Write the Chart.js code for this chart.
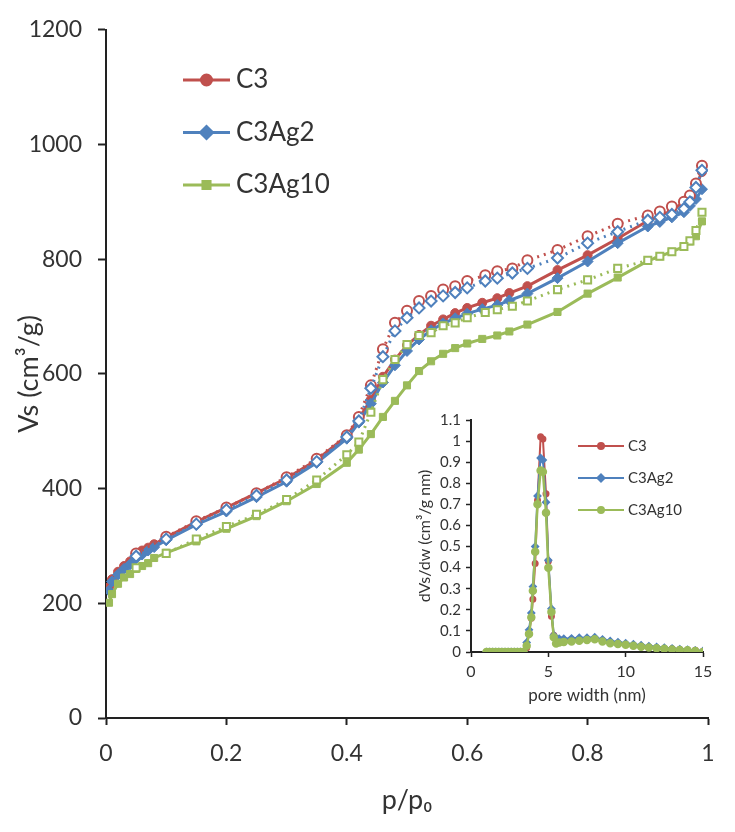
<!DOCTYPE html>
<html>
<head>
<meta charset="utf-8">
<script src="https://cdn.jsdelivr.net/npm/chart.js@4/dist/chart.umd.min.js"></script>
<style>
  body { margin: 0; background: #fff; }
  #wrap { position: relative; width: 735px; height: 832px; }
  #main { position: absolute; left: 0; top: 0; }
  #inset { position: absolute; left: 400px; top: 400px; }
</style>
</head>
<body>
<div id="wrap">
  <canvas id="main" width="735" height="832"></canvas>
  <canvas id="inset" width="335" height="310"></canvas>
</div>
<script>
// isotherm, adsorption branch
const pAds = [0.005, 0.01, 0.02, 0.03, 0.04, 0.05, 0.06, 0.07, 0.08, 0.1, 0.15, 0.2, 0.25, 0.3, 0.35, 0.4, 0.42, 0.44, 0.46, 0.48, 0.5, 0.52, 0.54, 0.56, 0.58, 0.6, 0.625, 0.65, 0.67, 0.7, 0.75, 0.8, 0.85, 0.9, 0.92, 0.94, 0.96, 0.97, 0.98, 0.99];
const c3Ads = [228, 242, 255, 265, 273, 283, 292, 297, 303, 315, 342, 367, 392, 418, 450, 492, 522, 555, 595, 625, 650, 668, 684, 695, 706, 715, 724, 732, 741, 753, 781, 807, 836, 867, 875, 885, 900, 910, 928, 952];
const c3Ag2Ads = [222, 238, 250, 260, 268, 278, 285, 292, 298, 310, 337, 360, 385, 412, 445, 487, 515, 548, 585, 615, 640, 660, 676, 688, 697, 705, 713, 720, 728, 740, 767, 796, 828, 857, 865, 873, 882, 893, 905, 922];
const c3Ag10Ads = [201, 216, 234, 245, 251, 260, 265, 270, 279, 288, 308, 330, 352, 378, 408, 445, 468, 495, 525, 553, 580, 605, 622, 635, 645, 653, 661, 667, 674, 686, 708, 740, 768, 797, 805, 813, 822, 831, 840, 866];

// desorption branch (hollow markers, dotted)
const pDes = [0.99, 0.98, 0.97, 0.96, 0.94, 0.92, 0.9, 0.85, 0.8, 0.75, 0.7, 0.675, 0.65, 0.63, 0.6, 0.58, 0.56, 0.54, 0.52, 0.5, 0.48, 0.46, 0.44, 0.42, 0.4, 0.35, 0.3, 0.25, 0.2, 0.15, 0.1, 0.05];
const c3Des = [963, 932, 911, 900, 892, 883, 876, 862, 840, 816, 798, 784, 779, 772, 762, 753, 747, 736, 727, 710, 689, 643, 580, 525, 493, 452, 420, 392, 367, 343, 316, 287];
const c3Ag2Des = [955, 925, 900, 888, 878, 873, 868, 848, 828, 802, 784, 776, 767, 762, 750, 742, 736, 727, 715, 698, 675, 630, 575, 518, 490, 447, 415, 388, 363, 338, 312, 282];
const c3Ag10Des = [882, 850, 832, 822, 813, 805, 798, 784, 764, 747, 727, 718, 712, 707, 698, 689, 684, 672, 667, 651, 625, 590, 533, 481, 459, 415, 381, 355, 334, 312, 287, 262];

// pore size distribution (inset)
const poreW = [1.0, 1.2, 1.4, 1.6, 1.8, 2.0, 2.2, 2.4, 2.6, 2.8, 3.0, 3.2, 3.4, 3.6, 3.75, 3.9, 4.0, 4.15, 4.3, 4.5, 4.65, 4.85, 5.0, 5.2, 5.35, 5.5, 5.7, 6.0, 6.5, 7.0, 7.5, 8.0, 8.5, 9.0, 9.5, 10, 10.5, 11, 11.5, 12, 12.5, 13, 13.5, 14, 14.5, 15];
const psdC3 = [0, 0, 0, 0, 0, 0, 0, 0, 0, 0, 0, 0, 0, 0.02, 0.09, 0.16, 0.25, 0.42, 0.72, 1.02, 1.01, 0.75, 0.43, 0.17, 0.08, 0.06, 0.06, 0.058, 0.06, 0.06, 0.062, 0.063, 0.055, 0.045, 0.04, 0.035, 0.03, 0.027, 0.023, 0.02, 0.017, 0.015, 0.012, 0.01, 0.008, 0.003];
const psdC3Ag2 = [0, 0, 0, 0, 0, 0, 0, 0, 0, 0, 0, 0, 0, 0.045, 0.105, 0.185, 0.31, 0.5, 0.74, 0.92, 0.91, 0.71, 0.435, 0.205, 0.08, 0.065, 0.063, 0.063, 0.065, 0.068, 0.068, 0.07, 0.06, 0.052, 0.047, 0.042, 0.037, 0.032, 0.028, 0.024, 0.02, 0.017, 0.014, 0.011, 0.008, 0.005];
const psdC3Ag10 = [0, 0, 0, 0, 0, 0, 0, 0, 0, 0, 0, 0, 0, 0.03, 0.085, 0.165, 0.29, 0.475, 0.7, 0.86, 0.855, 0.66, 0.4, 0.19, 0.07, 0.04, 0.045, 0.048, 0.05, 0.053, 0.057, 0.06, 0.05, 0.042, 0.038, 0.034, 0.03, 0.025, 0.021, 0.018, 0.015, 0.012, 0.01, 0.008, 0.005, 0];

const seriesNames = ['C3', 'C3Ag2', 'C3Ag10'];
const RED = '#C0504D', BLUE = '#4F81BD', GREEN = '#9BBB59';
const TXT = '#333333';
const FONT = 'Lato, "Open Sans", sans-serif';

const pts = (xs, ys) => xs.map((x, i) => ({ x: x, y: ys[i] }));
const plain = v => String(Math.round(v * 10) / 10);

function adsSet(label, ys, color, style, r, order) {
    return {
        label: label, data: pts(pAds, ys), showLine: true, order: order,
        borderColor: color, borderWidth: 3,
        pointStyle: style, pointRadius: r, pointBackgroundColor: color,
        pointBorderColor: color, pointBorderWidth: 1
    };
}
function desSet(label, ys, color, style, r, order) {
    return {
        label: label, data: pts(pDes, ys), showLine: true, order: order,
        borderColor: color, borderWidth: 3, borderDash: [2, 5],
        pointStyle: style, pointRadius: r, pointBackgroundColor: '#fff',
        pointBorderColor: color, pointBorderWidth: 2
    };
}

// legend drawn by hand: line + marker + text
function legendPlugin(id, items, x0, y0, dy, lineLen, lineW, mr, font, gap) {
    return {
        id: id,
        afterDatasetsDraw(chart) {
            const ctx = chart.ctx;
            ctx.save();
            items.forEach((it, i) => {
                const y = y0 + i * dy;
                ctx.strokeStyle = it.color;
                ctx.lineWidth = lineW;
                ctx.setLineDash([]);
                ctx.beginPath();
                ctx.moveTo(x0, y);
                ctx.lineTo(x0 + lineLen, y);
                ctx.stroke();
                Chart.helpers.drawPoint(ctx, {
                    pointStyle: it.style, radius: mr * (it.style === 'rectRot' ? 1.2 : 1),
                    borderWidth: 1
                }, x0 + lineLen / 2, y);
                ctx.fillStyle = it.color;
                ctx.fill();
                ctx.fillStyle = TXT;
                ctx.font = font;
                ctx.textBaseline = 'middle';
                ctx.fillText(it.label, x0 + lineLen + gap, y);
            });
            ctx.restore();
        }
    };
}

const legendItems = [
    { label: seriesNames[0], color: RED, style: 'circle' },
    { label: seriesNames[1], color: BLUE, style: 'rectRot' },
    { label: seriesNames[2], color: GREEN, style: 'rect' }
];

new Chart(document.getElementById('main').getContext('2d'), {
    type: 'scatter',
    data: {
        datasets: [
            adsSet(seriesNames[0], c3Ads, RED, 'circle', 4.5, 6),
            adsSet(seriesNames[1], c3Ag2Ads, BLUE, 'rectRot', 5.5, 5),
            adsSet(seriesNames[2], c3Ag10Ads, GREEN, 'rect', 5, 4),
            desSet(seriesNames[0] + ' des', c3Des, RED, 'circle', 5, 3),
            desSet(seriesNames[1] + ' des', c3Ag2Des, BLUE, 'rectRot', 5.5, 2),
            desSet(seriesNames[2] + ' des', c3Ag10Des, GREEN, 'rect', 5, 1)
        ]
    },
    options: {
        responsive: false,
        animation: false,
        layout: { padding: { top: 25, right: 27, left: 9, bottom: 12 } },
        plugins: { legend: { display: false }, tooltip: { enabled: false } },
        scales: {
            x: {
                type: 'linear', min: 0, max: 1,
                afterFit: s => { s.height = 102; },
                ticks: { stepSize: 0.2, color: TXT, font: { family: FONT, size: 23 }, padding: 15, callback: plain },
                grid: { drawOnChartArea: false, color: '#222', tickLength: 7, tickWidth: 2 },
                border: { color: '#222', width: 2 },
                title: { display: true, text: 'p/p₀', color: TXT, font: { family: FONT, size: 27 }, padding: { top: 2 } }
            },
            y: {
                min: 0, max: 1200,
                afterFit: s => { s.width = 97; },
                ticks: { stepSize: 200, color: TXT, font: { family: FONT, size: 23 }, padding: 16, callback: v => String(v) },
                grid: { drawOnChartArea: false, color: '#222', tickLength: 8, tickWidth: 2 },
                border: { color: '#222', width: 2 },
                title: { display: true, text: 'Vs (cm³/g)', color: TXT, font: { family: FONT, size: 27 }, padding: { bottom: 0 } }
            }
        }
    },
    plugins: [legendPlugin('mainLegend', legendItems, 183, 80, 52.5, 47, 3, 5, '26px ' + FONT, 6)]
});

new Chart(document.getElementById('inset').getContext('2d'), {
    type: 'scatter',
    data: {
        datasets: [
            { label: seriesNames[0], data: pts(poreW, psdC3), showLine: true, borderColor: RED, borderWidth: 2, order: 3,
              pointStyle: 'circle', pointRadius: 2.5, pointBackgroundColor: RED, pointBorderColor: RED },
            { label: seriesNames[1], data: pts(poreW, psdC3Ag2), showLine: true, borderColor: BLUE, borderWidth: 2, order: 2,
              pointStyle: 'rectRot', pointRadius: 3, pointBackgroundColor: BLUE, pointBorderColor: BLUE },
            { label: seriesNames[2], data: pts(poreW, psdC3Ag10), showLine: true, borderColor: GREEN, borderWidth: 2.5, order: 1,
              pointStyle: 'circle', pointRadius: 3, pointBackgroundColor: GREEN, pointBorderColor: GREEN }
        ]
    },
    options: {
        responsive: false,
        animation: false,
        layout: { padding: { top: 20, right: 32, left: 22, bottom: 0 } },
        plugins: { legend: { display: false }, tooltip: { enabled: false } },
        scales: {
            x: {
                type: 'linear', min: 0, max: 15,
                afterFit: s => { s.height = 58; },
                ticks: { stepSize: 5, color: TXT, font: { family: FONT, size: 16 }, padding: 5 },
                grid: { drawOnChartArea: false, color: '#222', tickLength: 5, tickWidth: 1.5 },
                border: { color: '#222', width: 2 },
                title: { display: true, text: 'pore width (nm)', color: TXT, font: { family: FONT, size: 17 }, padding: { top: 0 } }
            },
            y: {
                min: 0, max: 1.1,
                afterFit: s => { s.width = 49; },
                ticks: { stepSize: 0.1, autoSkip: false, color: TXT, font: { family: FONT, size: 15 }, padding: 5, callback: plain },
                grid: { drawOnChartArea: false, color: '#222', tickLength: 5, tickWidth: 1.5 },
                border: { color: '#222', width: 2 },
                title: { display: false }
            }
        }
    },
    plugins: [legendPlugin('insetLegend', [
        { label: seriesNames[0], color: RED, style: 'circle' },
        { label: seriesNames[1], color: BLUE, style: 'rectRot' },
        { label: seriesNames[2], color: GREEN, style: 'circle' }
    ], 178, 46, 32, 46, 2, 3, '15px ' + FONT, 4), {
        // inset y-axis title, placed beside the tick labels
        id: 'insetYTitle',
        afterDraw(chart) {
            const ctx = chart.ctx;
            const a = chart.chartArea;
            ctx.save();
            ctx.translate(25, (a.top + a.bottom) / 2);
            ctx.rotate(-Math.PI / 2);
            ctx.fillStyle = TXT;
            ctx.font = '16px ' + FONT;
            ctx.textAlign = 'center';
            ctx.textBaseline = 'middle';
            ctx.fillText('dVs/dw (cm³/g nm)', 0, 0);
            ctx.restore();
        }
    }]
});
</script>
</body>
</html>
